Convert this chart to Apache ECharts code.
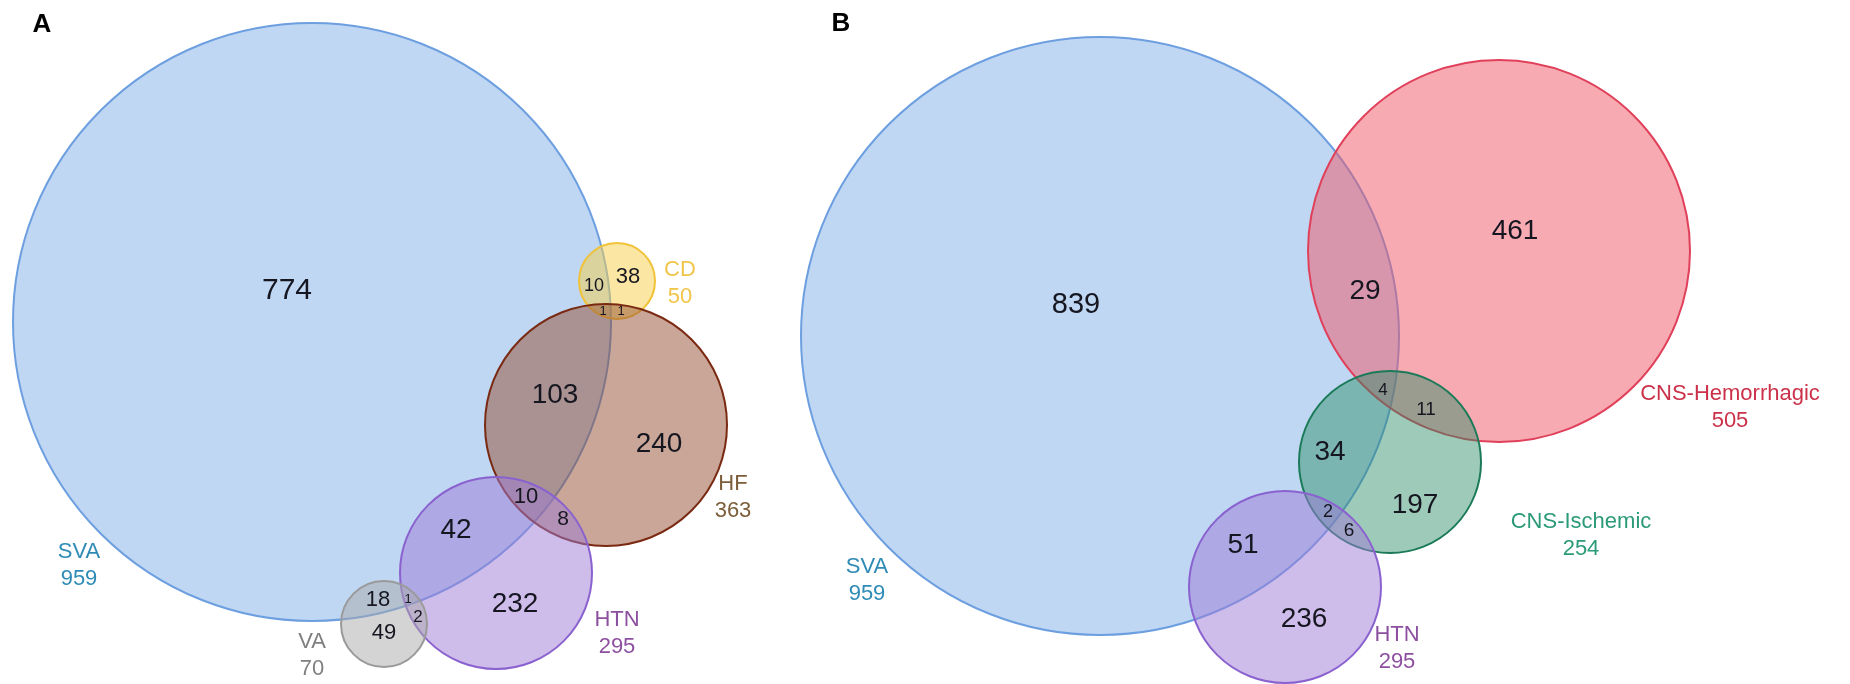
<!DOCTYPE html>
<html>
<head>
<meta charset="utf-8">
<script src="https://cdn.jsdelivr.net/npm/echarts@6/dist/echarts.min.js"></script>
<style>
  html, body { margin: 0; padding: 0; background: #fff; }
  #chart { width: 1850px; height: 684px; }
</style>
</head>
<body>
<div id="chart"></div>
<script>
// panel letters
const panelLetters = ['A', 'B']
const panelLetterX = [42, 841]
const panelLetterY = [25, 24]

// panel A: sets, totals and venn layout (data units)
const setsA = ['SVA', 'CD', 'HF', 'HTN', 'VA']
const totalsA = [959, 50, 363, 295, 70]
const centerXA = [312, 617, 606, 496, 384]
const centerYA = [322, 281, 425, 573, 624]
const radiusA = [299, 38, 121, 96, 43]
const setLabelXA = [79, 680, 733, 617, 312]
const setLabelYA = [552, 270, 484, 620, 642]

// panel A: region counts
const countsA = [774, 38, 10, 1, 1, 103, 240, 10, 8, 42, 232, 18, 49, 1, 2]
const countXA = [287, 628, 594, 603, 621, 555, 659, 526, 563, 456, 515, 378, 384, 408, 418]
const countYA = [291, 277, 286, 311, 311, 395, 444, 497, 519, 530, 604, 600, 633, 599, 617]
const countSizeA = [30, 22, 18, 13, 13, 28, 28, 22, 21, 28, 28, 22, 22, 13, 17]

// panel B: sets, totals and venn layout
const setsB = ['SVA', 'CNS-Hemorrhagic', 'CNS-Ischemic', 'HTN']
const totalsB = [959, 505, 254, 295]
const centerXB = [1100, 1499, 1390, 1285]
const centerYB = [336, 251, 462, 587]
const radiusB = [299, 191, 91, 96]
const setLabelXB = [867, 1730, 1581, 1397]
const setLabelYB = [567, 394, 522, 635]

// panel B: region counts
const countsB = [839, 461, 29, 4, 11, 34, 197, 2, 6, 51, 236]
const countXB = [1076, 1515, 1365, 1383, 1426, 1330, 1415, 1328, 1349, 1243, 1304]
const countYB = [305, 231, 291, 390, 410, 452, 505, 512, 531, 545, 619]
const countSizeB = [29, 28, 28, 17, 19, 28, 28, 18, 19, 28, 28]

// colours per set name
const palette = {
  'SVA': { fill: 'rgba(128,175,232,0.5)', stroke: '#6d9fe0', text: '#2e8bb6' },
  'CD': { fill: 'rgba(247,208,72,0.5)', stroke: '#f0c23a', text: '#f0c54a' },
  'HF': { fill: 'rgba(147,77,47,0.5)', stroke: '#7a2a12', text: '#7c5d3a' },
  'HTN': { fill: 'rgba(157,121,213,0.5)', stroke: '#8a62cf', text: '#8d4f9f' },
  'VA': { fill: 'rgba(170,170,170,0.5)', stroke: '#9a9a9a', text: '#7f7f7f' },
  'CNS-Hemorrhagic': { fill: 'rgba(239,85,101,0.5)', stroke: '#e0405a', text: '#cb3149' },
  'CNS-Ischemic': { fill: 'rgba(40,140,100,0.45)', stroke: '#1b7a58', text: '#2b9a78' },
}

const FONT = '"Liberation Sans", Arial, sans-serif'

const circleRows = []
setsA.forEach((s, i) => circleRows.push({ value: [centerXA[i], centerYA[i], radiusA[i]], set: s }))
setsB.forEach((s, i) => circleRows.push({ value: [centerXB[i], centerYB[i], radiusB[i]], set: s }))

// text rows: y is the centre of the first line
const textRows = []
countsA.forEach((v, i) => textRows.push({ value: [countXA[i], countYA[i]], text: String(v), size: countSizeA[i], color: '#161620' }))
countsB.forEach((v, i) => textRows.push({ value: [countXB[i], countYB[i]], text: String(v), size: countSizeB[i], color: '#161620' }))
setsA.forEach((s, i) => textRows.push({ value: [setLabelXA[i], setLabelYA[i]], text: s + '\n' + totalsA[i], size: 22, color: palette[s].text, lh: 27 }))
setsB.forEach((s, i) => textRows.push({ value: [setLabelXB[i], setLabelYB[i]], text: s + '\n' + totalsB[i], size: 22, color: palette[s].text, lh: 27 }))
panelLetters.forEach((t, i) => textRows.push({ value: [panelLetterX[i], panelLetterY[i]], text: t, size: 26, color: '#000', bold: true }))

const chart = echarts.init(document.getElementById('chart'))

const option = {
  animation: false,
  backgroundColor: '#fff',
  grid: { left: 0, right: 0, top: 0, bottom: 0 },
  xAxis: { type: 'value', min: 0, max: 1850, show: false },
  yAxis: { type: 'value', min: 0, max: 684, inverse: true, show: false },
  series: [
    {
      type: 'custom',
      clip: false,
      data: circleRows,
      encode: { x: 0, y: 1 },
      renderItem: (params, api) => {
        const row = circleRows[params.dataIndex]
        const c = api.coord([api.value(0), api.value(1)])
        const r = api.size([api.value(2), 0])[0]
        const col = palette[row.set]
        return {
          type: 'circle',
          shape: { cx: c[0], cy: c[1], r },
          style: { fill: col.fill, stroke: col.stroke, lineWidth: 2 },
        }
      },
    },
    {
      type: 'custom',
      clip: false,
      z: 5,
      data: textRows,
      encode: { x: 0, y: 1 },
      renderItem: (params, api) => {
        const row = textRows[params.dataIndex]
        const c = api.coord([api.value(0), api.value(1)])
        const lines = row.text.split('\n').length
        const lh = row.lh || row.size
        return {
          type: 'text',
          x: c[0],
          y: c[1] + (lines - 1) * lh / 2,
          style: {
            text: row.text,
            fill: row.color,
            font: (row.bold ? 'bold ' : '') + row.size + 'px ' + FONT,
            lineHeight: lh,
            align: 'center',
            verticalAlign: 'middle',
            textAlign: 'center',
            textVerticalAlign: 'middle',
          },
        }
      },
    },
  ],
}

chart.setOption(option)
</script>
</body>
</html>
